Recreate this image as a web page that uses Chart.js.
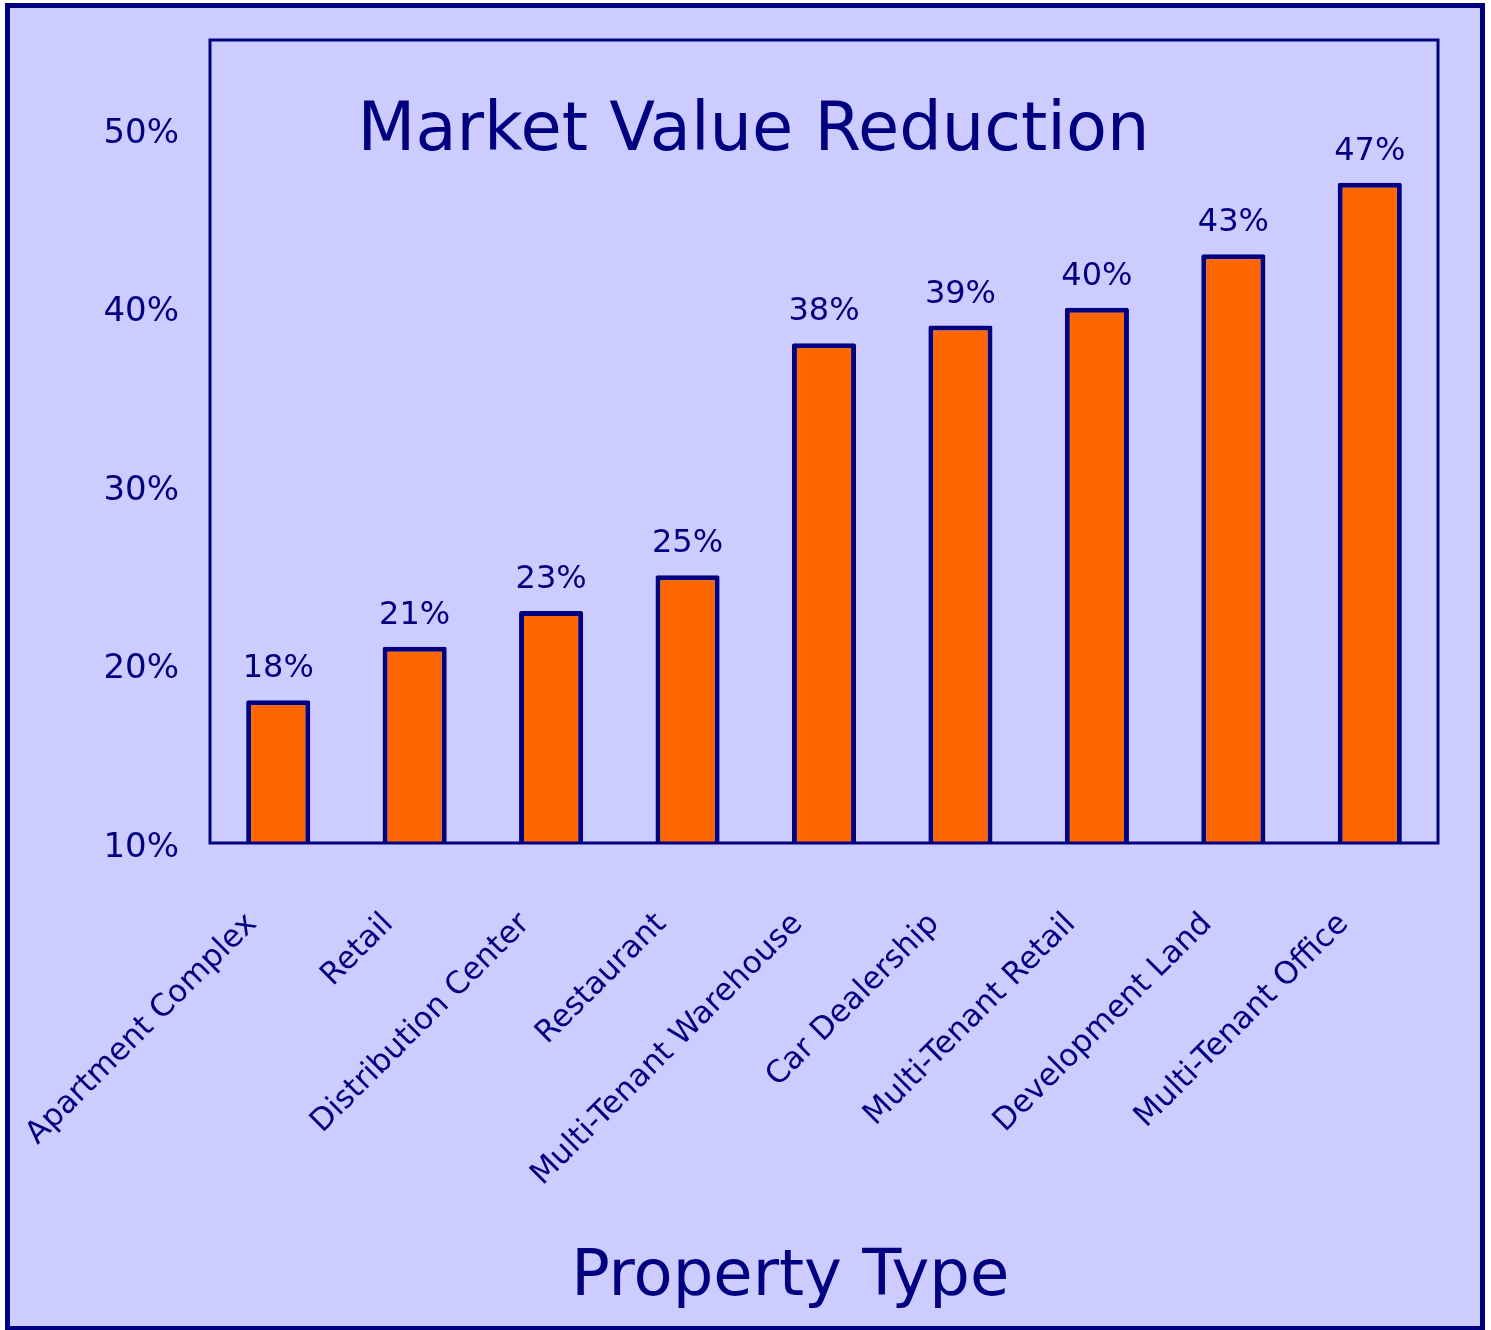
<!DOCTYPE html>
<html>
<head>
<meta charset="utf-8">
<title>Market Value Reduction</title>
<script src="https://cdn.jsdelivr.net/npm/chart.js@4.4.0/dist/chart.umd.min.js"></script>
<style>
  html, body { margin: 0; padding: 0; background: #ffffff; }
  canvas { display: block; }
</style>
</head>
<body>
<canvas id="grafico" width="1491" height="1330"></canvas>
<script>
  // datos
  const categorias = [
    'Apartment Complex', 'Retail', 'Distribution Center', 'Restaurant',
    'Multi-Tenant Warehouse', 'Car Dealership', 'Multi-Tenant Retail',
    'Development Land', 'Multi-Tenant Office'
  ];
  const reduccion = [18, 21, 23, 25, 38, 39, 40, 43, 47];
  const ticksY = [10, 20, 30, 40, 50];

  const AZUL = '#000080';
  const FONDO = '#ccccff';
  const NARANJA = '#ff6600';
  const FUENTE = '"DejaVu Sans", sans-serif';

  // fondo y marco exterior
  const marco = {
    id: 'marco',
    beforeDraw(chart) {
      const ctx = chart.ctx;
      ctx.save();
      ctx.fillStyle = '#ffffff';
      ctx.fillRect(0, 0, chart.width, chart.height);
      ctx.fillStyle = FONDO;
      ctx.fillRect(7.5, 5.5, chart.width - 16, chart.height - 7);
      ctx.strokeStyle = AZUL;
      ctx.lineWidth = 5;
      ctx.strokeRect(7.5, 5.5, chart.width - 16, chart.height - 7);
      ctx.restore();
    }
  };

  // caja del área de trazado, etiquetas de valor y títulos
  const extras = {
    id: 'extras',
    afterDatasetsDraw(chart) {
      const ctx = chart.ctx;
      const a = chart.chartArea;
      ctx.save();
      ctx.strokeStyle = AZUL;
      ctx.lineWidth = 3;
      ctx.strokeRect(a.left, a.top, a.right - a.left, a.bottom - a.top);

      ctx.fillStyle = AZUL;
      ctx.textAlign = 'center';
      ctx.textBaseline = 'alphabetic';
      ctx.font = '32px ' + FUENTE;
      const meta = chart.getDatasetMeta(0);
      meta.data.forEach((bar, i) => {
        ctx.fillText(reduccion[i] + '%', bar.x, bar.y - 23);
      });

      ctx.font = '67px ' + FUENTE;
      ctx.fillText('Market Value Reduction', chart.width / 2 + 8, a.top + 110);

      ctx.font = '64px ' + FUENTE;
      ctx.fillText('Property Type', chart.width * 0.53, chart.height - 35);
      ctx.restore();
    }
  };

  new Chart(document.getElementById('grafico'), {
    type: 'bar',
    data: {
      labels: categorias,
      datasets: [{
        label: 'Market Value Reduction',
        data: reduccion,
        backgroundColor: NARANJA,
        borderColor: AZUL,
        borderWidth: 5,
        borderRadius: 2,
        barPercentage: 0.47,
        categoryPercentage: 1
      }]
    },
    options: {
      responsive: false,
      animation: false,
      layout: { padding: { left: 10, right: 53, top: 40, bottom: 0 } },
      plugins: {
        legend: { display: false },
        title: { display: false },
        tooltip: { enabled: false }
      },
      scales: {
        x: {
          grid: { display: false },
          border: { display: false },
          ticks: {
            color: AZUL,
            font: { family: FUENTE, size: 31 },
            minRotation: 45,
            maxRotation: 45,
            autoSkip: false,
            padding: 55,
            labelOffset: -26
          },
          afterFit(scale) {
            scale.height = 487;
            scale.paddingLeft = 0;
            scale.paddingRight = 0;
          }
        },
        y: {
          min: 10,
          max: 55,
          grid: { display: false },
          border: { display: false },
          afterBuildTicks(scale) {
            scale.ticks = ticksY.map(v => ({ value: v }));
          },
          ticks: {
            color: AZUL,
            font: { family: FUENTE, size: 34 },
            padding: 23,
            labelOffset: 5,
            callback: v => v + '%'
          },
          afterFit(scale) {
            scale.width = 200;
            scale.paddingTop = 0;
            scale.paddingBottom = 0;
          }
        }
      }
    },
    plugins: [marco, extras]
  });
</script>
</body>
</html>
